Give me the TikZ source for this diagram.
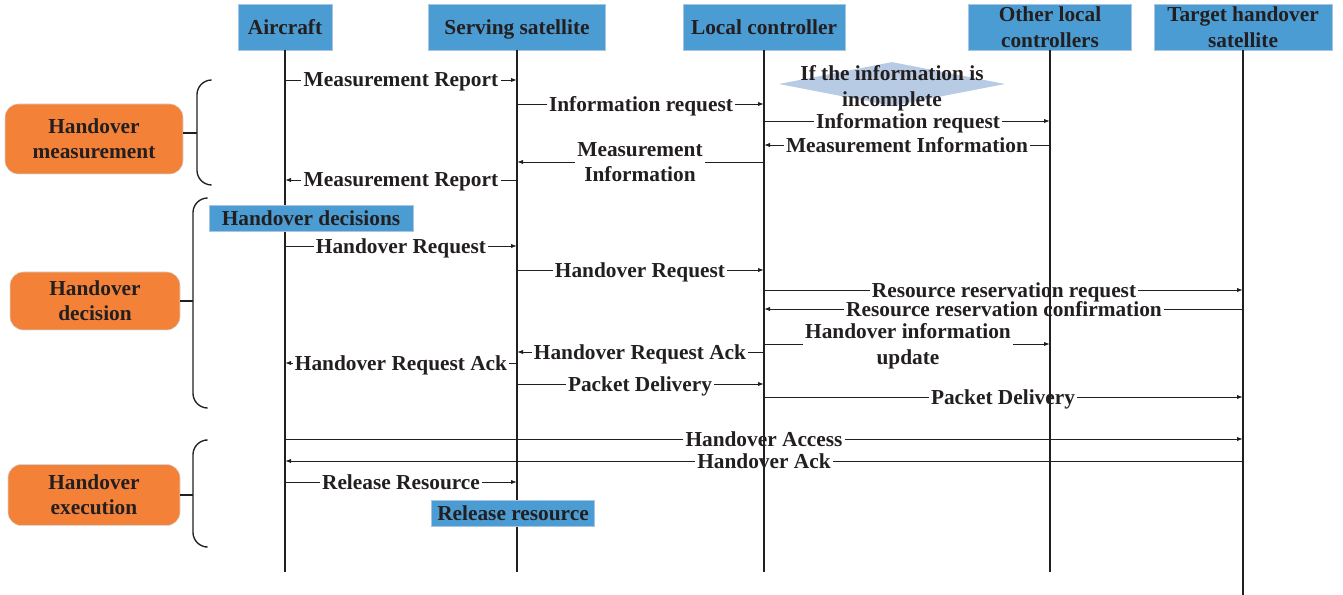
\documentclass[tikz,border=0pt]{standalone}
\usepackage{fontspec}
\setmainfont{Liberation Serif}
\usetikzlibrary{arrows.meta,shapes.geometric}
\definecolor{hoBlue}{HTML}{4B9CD3}
\definecolor{hoBlueEdge}{HTML}{A9C5E3}
\definecolor{hoOrange}{HTML}{F38138}
\definecolor{hoOrangeEdge}{HTML}{D6D6D6}
\definecolor{hoDiamond}{HTML}{B7CBE5}
\definecolor{hoInk}{HTML}{231F20}
\tikzset{
  hofont/.style={font=\bfseries\fontsize{16}{19}\selectfont, text=hoInk},
  actor/.style={hofont, draw=hoBlueEdge, fill=hoBlue, align=center, inner sep=0pt, minimum height=34.5pt, text depth=0pt},
  phase/.style={hofont, draw=hoOrangeEdge, fill=hoOrange, rounded corners=10pt, align=center, inner sep=0pt},
  stepnote/.style={hofont, draw=hoBlueEdge, fill=hoBlue, inner sep=0pt, minimum height=19.5pt},
  cond/.style={diamond, fill=hoDiamond, inner sep=0pt, minimum width=169.5pt, minimum height=33pt},
  lbl/.style={hofont, align=center, inner sep=1.5pt, text depth=0pt},
  msg/.style={draw=hoInk, line width=0.7pt, -{Latex[length=4.5pt,width=3.2pt]}},
  msgline/.style={draw=hoInk, line width=0.7pt},
  lifeline/.style={draw=hoInk, line width=1.1pt},
  bracket/.style={draw=hoInk, line width=1pt, rounded corners=11pt},
}

\begin{document}
\begin{tikzpicture}[x=0.75pt, y=-0.75pt]
\useasboundingbox (0,0) rectangle (1343,595);

% actors
\node[actor, minimum width=70.5pt] (air) at (285,27) {Aircraft};
\node[actor, minimum width=132.75pt] (srv) at (517,27) {Serving satellite};
\node[actor, minimum width=121.5pt] (loc) at (764,27) {Local controller};
\node[actor, minimum width=122.25pt] (oth) at (1050,27) {Other local\\controllers};
\node[actor, minimum width=133.5pt] (tgt) at (1243,27) {Target handover\\satellite};
\foreach \a/\e in {air/572,srv/572,loc/572,oth/572,tgt/595}
  \draw[lifeline] (\a.south) -- (\a |- 0,\e);

% phases
\node[phase, minimum width=133.5pt, minimum height=52.5pt] (meas) at (94,139) {Handover\\measurement};
\node[phase, minimum width=127.5pt, minimum height=43.5pt] (deci) at (95,301) {Handover\\decision};
\node[phase, minimum width=129pt, minimum height=45.75pt] (exec) at (94,495) {Handover\\execution};
\draw[bracket] (210,80) -| (197,185) -- (210,185);
\draw[bracket] (207,198) -| (193,408) -- (207,408);
\draw[bracket] (205,440) -| (193,547) -- (205,547);
\draw[msgline, line width=1pt] (meas.east |- 0,133) -- (197,133);
\draw[msgline, line width=1pt] (deci.east) -- (deci.east -| 193,0);
\draw[msgline, line width=1pt] (exec.east) -- (exec.east -| 193,0);

% handover measurement
\node[lbl] (m1) at (401,80) {Measurement Report};
\draw[msgline] (air |- m1) -- (m1.west); \draw[msg] (m1.east) -- (srv |- m1);
\node[lbl] (m2) at (641,104) {Information request};
\draw[msgline] (srv |- m2) -- (m2.west); \draw[msg] (m2.east) -- (loc |- m2);
\node[cond] (ifc) at (892,84) {};
\node[lbl] at (892,86) {If the information is\\incomplete};
\node[lbl] (m3) at (908,121) {Information request};
\draw[msgline] (loc |- m3) -- (m3.west); \draw[msg] (m3.east) -- (oth |- m3);
\node[lbl] (m4) at (907,145) {Measurement Information};
\draw[msg] (m4.west) -- (loc |- m4); \draw[msgline] (m4.east) -- (oth |- m4);
\node[lbl] (m5) at (640,162) {Measurement\\Information};
\draw[msg] (m5.west) -- (srv |- m5); \draw[msgline] (m5.east) -- (loc |- m5);
\node[lbl] (m6) at (401,180) {Measurement Report};
\draw[msg] (m6.west) -- (air |- m6); \draw[msgline] (m6.east) -- (srv |- m6);

% handover decision
\node[stepnote, minimum width=153pt] (hdec) at (311,218) {Handover decisions};
\node[lbl] (m7) at (401,246) {Handover Request};
\draw[msgline] (air |- m7) -- (m7.west); \draw[msg] (m7.east) -- (srv |- m7);
\node[lbl] (m8) at (640,270) {Handover Request};
\draw[msgline] (srv |- m8) -- (m8.west); \draw[msg] (m8.east) -- (loc |- m8);
\node[lbl] (m9) at (1004,290) {Resource reservation request};
\draw[msgline] (loc |- m9) -- (m9.west); \draw[msg] (m9.east) -- (tgt |- m9);
\node[lbl] (m10) at (1004,309) {Resource reservation confirmation};
\draw[msg] (m10.west) -- (loc |- m10); \draw[msgline] (m10.east) -- (tgt |- m10);
\node[lbl] (m11) at (908,344) {Handover information\\update};
\draw[msgline] (loc |- m11) -- (m11.west); \draw[msg] (m11.east) -- (oth |- m11);
\node[lbl] (m12) at (640,352) {Handover Request Ack};
\draw[msg] (m12.west) -- (srv |- m12); \draw[msgline] (m12.east) -- (loc |- m12);
\node[lbl] (m13) at (401,363) {Handover Request Ack};
\draw[msg] (m13.west) -- (air |- m13); \draw[msgline] (m13.east) -- (srv |- m13);
\node[lbl] (m14) at (640,384) {Packet Delivery};
\draw[msgline] (srv |- m14) -- (m14.west); \draw[msg] (m14.east) -- (loc |- m14);
\node[lbl] (m15) at (1003,397) {Packet Delivery};
\draw[msgline] (loc |- m15) -- (m15.west); \draw[msg] (m15.east) -- (tgt |- m15);

% handover execution
\node[lbl] (m16) at (764,439) {Handover Access};
\draw[msgline] (air |- m16) -- (m16.west); \draw[msg] (m16.east) -- (tgt |- m16);
\node[lbl] (m17) at (764,461) {Handover Ack};
\draw[msg] (m17.west) -- (air |- m17); \draw[msgline] (m17.east) -- (tgt |- m17);
\node[lbl] (m18) at (401,482) {Release Resource};
\draw[msgline] (air |- m18) -- (m18.west); \draw[msg] (m18.east) -- (srv |- m18);
\node[stepnote, minimum width=122.25pt] (rel) at (513,513) {Release resource};
\end{tikzpicture}
\end{document}
